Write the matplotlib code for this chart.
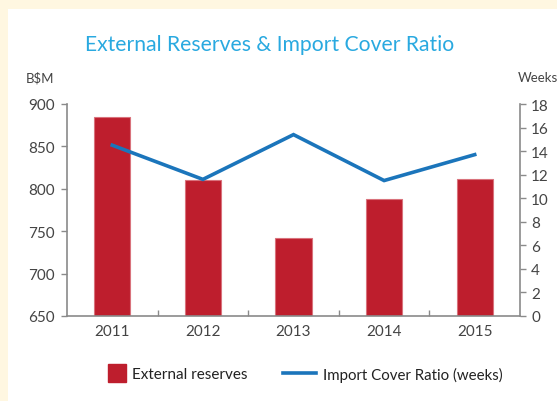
import matplotlib
matplotlib.use("Agg")
import matplotlib.pyplot as plt
from matplotlib.patches import Rectangle

years = ["2011", "2012", "2013", "2014", "2015"]
reserves = [885, 810, 742, 788, 811]          # B$M
cover_weeks = [14.5, 11.6, 15.4, 11.5, 13.7]  # weeks

RED = "#BE1E2D"
BLUE = "#1B75BB"
GREY = "#8a8a8a"
TXT = "#444444"

plt.rcParams["font.family"] = ["Lato", "DejaVu Sans"]

fig = plt.figure(figsize=(5.57, 4.02), dpi=100)
fig.patch.set_facecolor("#FFF7E1")
# white panel behind everything
fig.patches.append(Rectangle((8 / 557, 0), 1, 1 - 10 / 402, transform=fig.transFigure,
                             facecolor="white", edgecolor="none", zorder=-10))

ax = fig.add_axes([67 / 557, 1 - 317 / 402, 453 / 557, 212 / 402])
ax.set_facecolor("none")
x = range(len(years))
ax.bar(x, reserves, width=0.4, color=RED, edgecolor="#d9727c", linewidth=0.8, zorder=2)
ax.set_ylim(650, 900)
ax.set_xlim(-0.5, 4.5)
ax.set_yticks(range(650, 901, 50))
ax.set_xticks(x)
ax.set_xticklabels(years)
ax.set_xticks([i + 0.5 for i in range(4)], minor=True)
ax.tick_params(axis="x", which="major", length=0, pad=6, labelsize=11, labelcolor=TXT)
ax.tick_params(axis="x", which="minor", direction="in", length=4, color=GREY, width=1)
ax.tick_params(axis="y", direction="out", length=4, color=GREY, width=1, labelsize=11,
               labelcolor=TXT, pad=5)
for side in ["top", "right"]:
    ax.spines[side].set_visible(False)
for side in ["left", "bottom"]:
    ax.spines[side].set_color(GREY)
    ax.spines[side].set_linewidth(1.2)

ax2 = ax.twinx()
ax2.plot(x, cover_weeks, color=BLUE, linewidth=2.6, solid_joinstyle="miter", zorder=3)
ax2.set_ylim(0, 18)
ax2.set_yticks(range(0, 19, 2))
ax2.tick_params(axis="y", direction="out", length=4, color=GREY, width=1, labelsize=11,
                labelcolor=TXT, pad=4)
for side in ["top", "left", "bottom"]:
    ax2.spines[side].set_visible(False)
ax2.spines["right"].set_color(GREY)
ax2.spines["right"].set_linewidth(1.2)

fig.text(270 / 557, 1 - 45 / 402, "External Reserves & Import Cover Ratio",
         ha="center", va="center", fontsize=15.2, color="#29A9E0")
fig.text(26 / 557, 1 - 78 / 402, "B$M", ha="left", va="center", fontsize=9.5, color=TXT)
fig.text(518 / 557, 1 - 78 / 402, "Weeks", ha="left", va="center", fontsize=9.5, color=TXT)

h1 = plt.Line2D([], [], marker="s", markersize=13, color=RED, linestyle="none")
h2 = plt.Line2D([], [], color=BLUE, linewidth=2.6)
fig.legend([h1], ["External reserves"], loc="center left",
           bbox_to_anchor=(108 / 557, 1 - 375 / 402), frameon=False,
           fontsize=11, handlelength=1.2, handletextpad=0.35,
           labelcolor="#222222", borderpad=0, borderaxespad=0)
fig.legend([h2], ["Import Cover Ratio (weeks)"], loc="center left",
           bbox_to_anchor=(283 / 557, 1 - 375 / 402), frameon=False,
           fontsize=10.8, handlelength=2.2, handletextpad=0.45,
           labelcolor="#222222", borderpad=0, borderaxespad=0)

fig.savefig("out.png", dpi=100, facecolor=fig.get_facecolor())
